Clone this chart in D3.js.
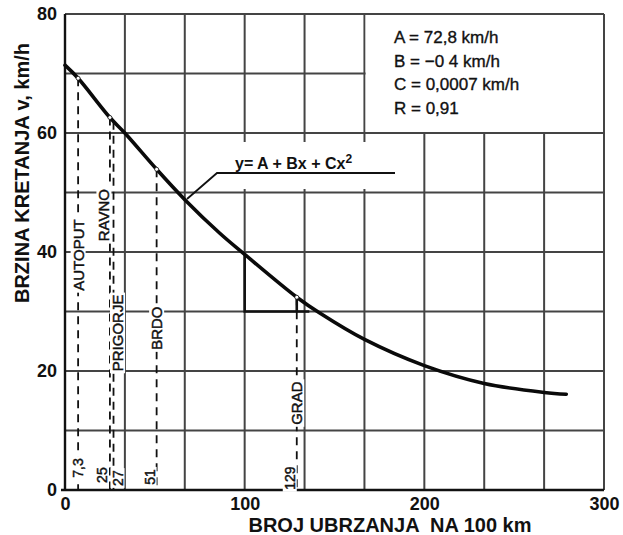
<!DOCTYPE html>
<html>
<head>
<meta charset="utf-8">
<script src="https://d3js.org/d3.v7.min.js"></script>
<style>
    body { margin: 0; background: #fff; }
    text { font-family: "Liberation Sans", Arial, Helvetica, sans-serif; fill: #111; }
</style>
</head>
<body>
<svg id="svgMain" width="623" height="535"></svg>
<script>
// data
const curveX = [0, 7.3, 25, 33.3, 51, 66.7, 86, 100, 129, 142, 166.7, 200, 233.3, 266.7, 279];
const curveY = [71.4, 69.2, 62.6, 60, 53.9, 48.8, 43.2, 39.6, 32.4, 29.7, 25.3, 20.9, 17.9, 16.4, 16.1];

const roadX = [7.3, 25, 27, 51, 129];
const roadTop = [69.2, 62.6, 61.9, 53.9, 32.4];
const roadNames = ["AUTOPUT", "RAVNO", "PRIGORJE", "BRDO", "GRAD"];
const roadNameY = [39.5, 46.2, 26.4, 27.2, 14.6];
const roadNums = ["7,3", "25", "27", "51", "129"];
const roadNumY = [3.7, 2.5, 2.0, 2.2, 2.0];

const xTicks = [0, 100, 200, 300];
const yTicks = [0, 20, 40, 60, 80];
const legendLines = ["A = 72,8 km/h", "B = \u22120 4 km/h", "C = 0,0007 km/h", "R = 0,91"];

const svg = d3.select("#svgMain");
const x = d3.scaleLinear().domain([0, 300]).range([65, 604]);
const y = d3.scaleLinear().domain([0, 80]).range([490, 14]);

// grid
const gridX = d3.range(0, 301, 100 / 3);
const gridY = d3.range(0, 81, 10);
const grid = svg.append("g").attr("stroke", "#444").attr("stroke-width", 2);
grid.selectAll(".gx").data(gridX).join("line")
    .attr("x1", d => x(d)).attr("x2", d => x(d))
    .attr("y1", y(80)).attr("y2", y(0));
grid.selectAll(".gy").data(gridY).join("line")
    .attr("x1", x(0)).attr("x2", x(300))
    .attr("y1", d => y(d)).attr("y2", d => y(d));

// blank areas for legend and equation
svg.append("rect").attr("x", x(100) + 121).attr("y", y(80) + 1)
    .attr("width", x(300) - x(100) - 122).attr("height", y(60) - y(80) - 2).attr("fill", "#fff");
svg.append("rect").attr("x", 188).attr("y", 142).attr("width", 212).attr("height", 47).attr("fill", "#fff");

// axes lines
svg.append("line").attr("x1", x(0)).attr("x2", x(0)).attr("y1", y(80)).attr("y2", y(0))
    .attr("stroke", "#111").attr("stroke-width", 2.4);
svg.append("line").attr("x1", x(0) - 4).attr("x2", x(300)).attr("y1", y(0)).attr("y2", y(0))
    .attr("stroke", "#111").attr("stroke-width", 2.4);

// tick labels
const yAxis = svg.append("g").attr("transform", `translate(${x(0)},0)`)
    .call(d3.axisLeft(y).tickValues(yTicks).tickSize(0).tickPadding(8));
const xAxis = svg.append("g").attr("transform", `translate(0,${y(0)})`)
    .call(d3.axisBottom(x).tickValues(xTicks).tickSize(0).tickPadding(7));
[yAxis, xAxis].forEach(a => {
    a.select(".domain").remove();
    a.selectAll("text").attr("font-size", 18).attr("font-weight", "bold")
        .attr("font-family", "Liberation Sans, Arial, sans-serif").attr("fill", "#111");
});

// road dashed lines
const roads = roadX.map((d, i) => ({ x: d, top: roadTop[i], name: roadNames[i], ny: roadNameY[i], num: roadNums[i], numY: roadNumY[i] }));
const nameShift = [0, -6, 4, 0, 0];
const numShift = [0, -8, 4, -7, -7];

svg.append("g").selectAll("line").data(roads).join("line")
    .attr("x1", d => x(d.x)).attr("x2", d => x(d.x))
    .attr("y1", d => y(d.top)).attr("y2", y(0))
    .attr("stroke", "#111").attr("stroke-width", 1.8).attr("stroke-dasharray", "8,6");

// triangle
svg.append("path")
    .attr("d", `M${x(100)},${y(39.6)}L${x(100)},${y(30)}L${x(136)},${y(30)}M${x(129)},${y(30)}L${x(129)},${y(32.4)}`)
    .attr("fill", "none").attr("stroke", "#111").attr("stroke-width", 2.6);

function rotLabel(g, px, py, txt, size) {
    const gg = g.append("g").attr("transform", `translate(${px},${py}) rotate(-90)`);
    const r = gg.append("rect").attr("fill", "#fff");
    const t = gg.append("text").attr("text-anchor", "middle").attr("dominant-baseline", "central")
        .attr("font-size", size).attr("stroke", "#111").attr("stroke-width", 0.45).text(txt);
    const b = t.node().getBBox();
    r.attr("x", b.x - 2).attr("y", b.y + 1).attr("width", b.width + 4).attr("height", b.height - 2);
}
const labels = svg.append("g");
roads.forEach((d, i) => {
    rotLabel(labels, x(d.x) + nameShift[i], y(d.ny), d.name, 15);
    rotLabel(labels, x(d.x) + numShift[i], y(d.numY), d.num, 14);
});

// curve
const line = d3.line().x(d => x(d[0])).y(d => y(d[1])).curve(d3.curveCatmullRom);
svg.append("path").datum(curveX.map((d, i) => [d, curveY[i]]))
    .attr("d", line).attr("fill", "none").attr("stroke", "#0a0a0a")
    .attr("stroke-width", 3.6).attr("stroke-linecap", "round");

svg.append("g").selectAll("circle").data(roads.filter(d => d.x !== 27)).join("circle")
    .attr("cx", d => x(d.x)).attr("cy", d => y(d.top)).attr("r", 2)
    .attr("fill", "#fff").attr("stroke", "#111").attr("stroke-width", 0.8);

// equation label
svg.append("path").attr("d", "M187,199L217,173L395,173")
    .attr("fill", "none").attr("stroke", "#111").attr("stroke-width", 1.8);
const eq = svg.append("text").attr("x", 235).attr("y", 169).attr("font-size", 16).attr("font-weight", "bold")
    .text("y= A + Bx + Cx");
eq.append("tspan").attr("dy", -6).attr("font-size", 12).text("2");

// legend
svg.append("g").selectAll("text").data(legendLines).join("text")
    .attr("x", 394).attr("y", (d, i) => 43 + i * 23.5)
    .attr("font-size", 17).attr("stroke", "#111").attr("stroke-width", 0.35).text(d => d);

// axis titles
svg.append("text").attr("transform", "translate(29,173) rotate(-90)")
    .attr("text-anchor", "middle").attr("font-size", 20).attr("font-weight", "bold")
    .text("BRZINA KRETANJA v, km/h");
svg.append("text").attr("x", 390).attr("y", 532)
    .attr("text-anchor", "middle").attr("font-size", 20).attr("font-weight", "bold")
    .style("white-space", "pre")
    .text("BROJ UBRZANJA  NA 100 km");
</script>
</body>
</html>
